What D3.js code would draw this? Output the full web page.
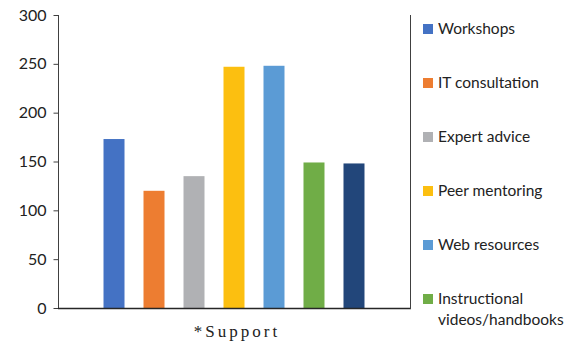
<!DOCTYPE html>
<html>
<head>
<meta charset="utf-8">
<script src="https://cdn.jsdelivr.net/npm/d3@7"></script>
<style>
  body { margin: 0; background: #fff; }
  svg { display: block; }
</style>
</head>
<body>
<svg id="chart"></svg>
<script>
// data
var categories = ["*Support"];
var seriesNames = ["Workshops", "IT consultation", "Expert advice", "Peer mentoring",
                   "Web resources", "Instructional videos/handbooks", "Other"];
var seriesValues = [173, 120, 135, 247, 248, 149, 148];
var yTicks = [0, 50, 100, 150, 200, 250, 300];
var colors = ["#4472c4", "#ed7d31", "#b0b1b4", "#fcbf10", "#5b9bd5", "#70ad47", "#22467a"];

var width = 578, height = 342;
var plotLeft = 58, plotRight = 410, plotTop = 15, plotBottom = 308;

var svg = d3.select("#chart")
    .attr("width", width)
    .attr("height", height);

var y = d3.scaleLinear().domain([0, 300]).range([plotBottom, plotTop]);

// one category, bars grouped inside it
var x0 = d3.scaleBand().domain(categories).range([plotLeft, plotRight])
    .paddingInner(0).paddingOuter(0.1286);
var x1 = d3.scaleBand().domain(seriesNames).range([0, x0.bandwidth()])
    .paddingInner(0.475).paddingOuter(0.2375);

var g = svg.append("g");
categories.forEach(function(cat) {
  g.selectAll("rect.bar")
    .data(seriesValues)
    .enter().append("rect")
    .attr("class", "bar")
    .attr("x", function(d, i) { return x0(cat) + x1(seriesNames[i]); })
    .attr("y", function(d) { return y(d); })
    .attr("width", x1.bandwidth())
    .attr("height", function(d) { return plotBottom - y(d); })
    .attr("fill", function(d, i) { return colors[i]; });
});

// y axis
var yAxis = d3.axisLeft(y).tickValues(yTicks).tickSize(5).tickPadding(7);
var ya = svg.append("g")
    .attr("transform", "translate(" + (plotLeft + 0.5) + ",0)")
    .call(yAxis);
ya.select(".domain").attr("stroke", "#404040").attr("d", "M0," + plotTop + "V" + plotBottom);
ya.selectAll(".tick line").attr("stroke", "#404040");
ya.selectAll(".tick text")
    .attr("fill", "#222")
    .style("font-family", "Lato, 'Open Sans', sans-serif")
    .style("font-size", "16px");

// x axis line
svg.append("line")
    .attr("x1", plotLeft).attr("x2", plotRight + 1)
    .attr("y1", plotBottom + 0.5).attr("y2", plotBottom + 0.5)
    .attr("stroke", "#262626").attr("stroke-width", 1.5);

// right border
svg.append("line")
    .attr("x1", plotRight + 0.5).attr("x2", plotRight + 0.5)
    .attr("y1", plotTop).attr("y2", plotBottom + 1)
    .attr("stroke", "#404040").attr("stroke-width", 1);

// category label
svg.append("text")
    .attr("x", (plotLeft + plotRight) / 2 + 3)
    .attr("y", 337)
    .attr("text-anchor", "middle")
    .text(categories[0])
    .style("font-family", "'Liberation Serif', serif")
    .style("font-size", "17px")
    .style("letter-spacing", "3px")
    .attr("fill", "#222");

// legend (only the entries that fit, the rest is cut off like the original)
var legend = svg.append("g");
seriesNames.forEach(function(name, i) {
  var cy = 29 + i * 54;
  if (cy + 5 > height) return;
  legend.append("rect")
    .attr("x", 423).attr("y", cy - 5)
    .attr("width", 10).attr("height", 10)
    .attr("fill", colors[i]);
  var t = legend.append("text")
    .attr("x", 438).attr("y", cy + 5)
    .attr("fill", "#222")
    .style("font-family", "Lato, 'Open Sans', sans-serif")
    .style("font-size", "15.5px");
  if (name == "Instructional videos/handbooks") {
    t.append("tspan").attr("x", 438).text("Instructional");
    t.append("tspan").attr("x", 438).attr("dy", 21).text("videos/handbooks");
  } else {
    t.text(name);
  }
});
</script>
</body>
</html>
